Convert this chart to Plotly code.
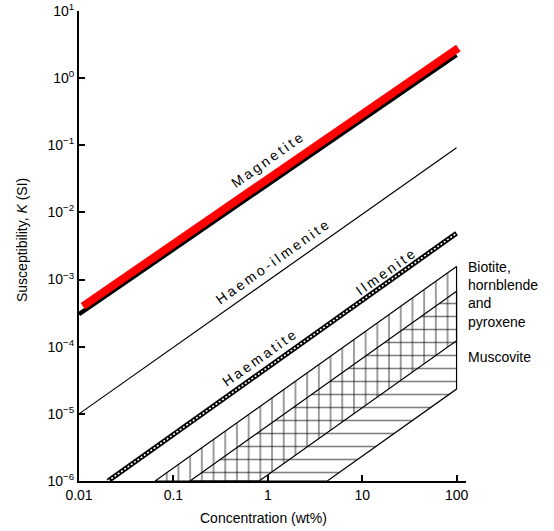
import plotly.graph_objects as go

# ---- data (concentration in wt%, susceptibility K in SI) ----
magnetite_conc = [0.01, 100]
magnetite_K = [3.05e-4, 2.22]
magnetite_hl_conc = [0.011, 104.5]
magnetite_hl_K = [4.0e-4, 2.81]
haemo_ilm_conc = [0.01, 100]
haemo_ilm_K = [1e-5, 0.092]
haematite_ilm_conc = [0.0203, 100]
haematite_ilm_K = [1e-6, 4.9e-3]
biotite_conc = [0.064, 100, 100, 0.81, 0.064]
biotite_K = [1e-6, 1.56e-3, 1.23e-4, 1e-6, 1e-6]
muscovite_conc = [0.15, 100, 100, 4.27, 0.15]
muscovite_K = [1e-6, 6.7e-4, 2.34e-5, 1e-6, 1e-6]

x_tickvals = [0.01, 0.1, 1, 10, 100]
x_ticktext = ["0.01", "0.1", "1", "10", "100"]
y_tickvals = [1e1, 1e0, 1e-1, 1e-2, 1e-3, 1e-4, 1e-5, 1e-6]
y_ticktext = ["10<sup>1</sup>", "10<sup>0</sup>", "10<sup>\u22121</sup>", "10<sup>\u22122</sup>",
              "10<sup>\u22123</sup>", "10<sup>\u22124</sup>", "10<sup>\u22125</sup>", "10<sup>\u22126</sup>"]

FONT = "Liberation Sans, Arial, Helvetica, sans-serif"
TS = "\u2009"  # thin space used as letter spacing for the line labels


def spaced(s):
    return TS.join(list(s))


fig = go.Figure()

# Biotite/hornblende/pyroxene field (vertical hatching)
fig.add_trace(go.Scatter(x=biotite_conc, y=biotite_K, mode="lines", fill="toself",
                         fillcolor="rgba(0,0,0,0)",
                         fillpattern=dict(shape="|", size=11.7, solidity=0.13, fgcolor="black"),
                         line=dict(color="black", width=1.2), hoverinfo="skip"))
# Muscovite field (horizontal hatching)
fig.add_trace(go.Scatter(x=muscovite_conc, y=muscovite_K, mode="lines", fill="toself",
                         fillcolor="rgba(0,0,0,0)",
                         fillpattern=dict(shape="-", size=13, solidity=0.12, fgcolor="black"),
                         line=dict(color="black", width=1.2), hoverinfo="skip"))
# Haematite / Ilmenite chain line
fig.add_trace(go.Scatter(x=haematite_ilm_conc, y=haematite_ilm_K, mode="lines",
                         line=dict(color="black", width=5), hoverinfo="skip"))
fig.add_trace(go.Scatter(x=haematite_ilm_conc, y=haematite_ilm_K, mode="lines",
                         line=dict(color="white", width=1.6, dash="2px,2px"), hoverinfo="skip"))
# Haemo-ilmenite
fig.add_trace(go.Scatter(x=haemo_ilm_conc, y=haemo_ilm_K, mode="lines",
                         line=dict(color="black", width=1.2), hoverinfo="skip"))
# Magnetite
fig.add_trace(go.Scatter(x=magnetite_conc, y=magnetite_K, mode="lines",
                         line=dict(color="black", width=4.5), hoverinfo="skip"))
fig.add_trace(go.Scatter(x=magnetite_hl_conc, y=magnetite_hl_K, mode="lines",
                         line=dict(color="#ff0000", width=8), hoverinfo="skip"))

ang = -35.4
labels = [
    ("Magnetite", -0.006, -1.22),
    ("Haemo-ilmenite", 0.047, -2.74),
    ("Ilmenite", 1.245, -2.89),
    ("Haematite", -0.091, -4.17),
]
for txt, lx, ly in labels:
    fig.add_annotation(x=lx, y=ly, xref="x", yref="y", text=spaced(txt), showarrow=False,
                       textangle=ang, font=dict(family=FONT, size=14, color="black"))

fig.add_annotation(x=1.0, y=0.396, xref="paper", yref="paper", xanchor="left", yanchor="middle",
                   align="left", showarrow=False,
                   text="Biotite,<br>hornblende<br>and<br>pyroxene",
                   font=dict(family=FONT, size=14, color="black"))
fig.add_annotation(x=1.0, y=0.264, xref="paper", yref="paper", xanchor="left", yanchor="middle",
                   align="left", showarrow=False, text="Muscovite",
                   font=dict(family=FONT, size=14, color="black"))

# axis titles
fig.add_annotation(x=0.478, y=-0.079, xref="paper", yref="paper", xanchor="center", yanchor="middle",
                   showarrow=False, text="Concentration (wt%)",
                   font=dict(family=FONT, size=14, color="black"))
fig.add_annotation(x=-0.147, y=0.513, xref="paper", yref="paper", xanchor="center", yanchor="middle",
                   showarrow=False, textangle=-90, text="Susceptibility, <i>K</i> (SI)",
                   font=dict(family=FONT, size=14, color="black"))

fig.update_layout(
    width=554, height=531,
    margin=dict(l=79, r=88, t=11, b=50),
    paper_bgcolor="white", plot_bgcolor="white",
    showlegend=False,
    font=dict(family=FONT, size=14, color="black"),
    xaxis=dict(type="log", range=[-2, 2.1], tickvals=x_tickvals, ticktext=x_ticktext,
               ticks="inside", ticklen=6, tickwidth=1.5, tickcolor="black", automargin=False,
               showline=True, linecolor="black", linewidth=2, showgrid=False, zeroline=False),
    yaxis=dict(type="log", range=[-6, 1], tickvals=y_tickvals, ticktext=y_ticktext,
               ticks="inside", ticklen=6, tickwidth=1.5, tickcolor="black", automargin=False,
               showline=True, linecolor="black", linewidth=2, showgrid=False, zeroline=False),
)

fig.write_html("out.html")
